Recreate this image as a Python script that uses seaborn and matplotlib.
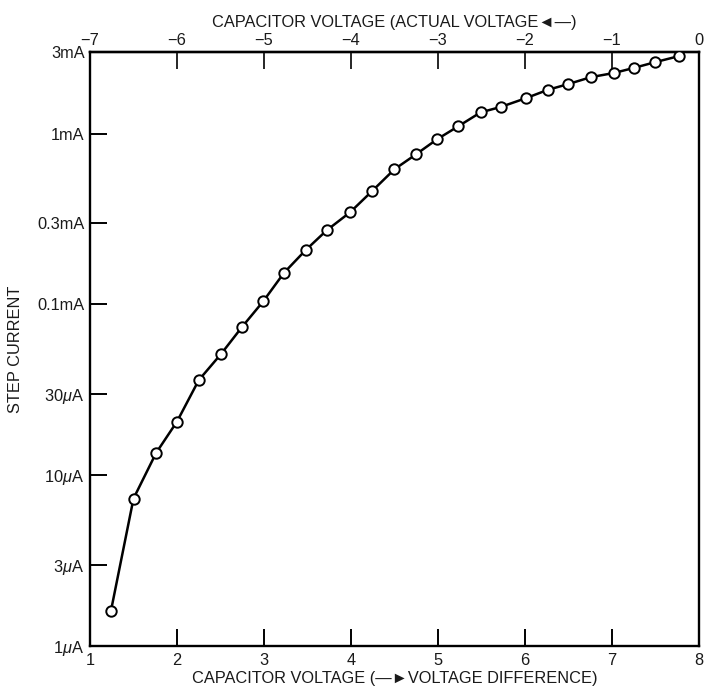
import matplotlib
matplotlib.use("Agg")
import matplotlib.pyplot as plt
import seaborn as sns
import pandas as pd
import numpy as np
from matplotlib.ticker import FixedLocator, NullLocator

# ---- data ----
voltage_difference = [1.24, 1.50, 1.76, 2.00, 2.25, 2.51, 2.75, 2.99, 3.23, 3.48,
                      3.72, 3.99, 4.24, 4.50, 4.75, 4.99, 5.23, 5.49, 5.72, 6.01,
                      6.26, 6.50, 6.76, 7.02, 7.25, 7.50, 7.77]
step_current = [1.60e-6, 7.3e-6, 1.35e-5, 2.06e-5, 3.60e-5, 5.15e-5, 7.4e-5, 1.04e-4,
                1.53e-4, 2.08e-4, 2.71e-4, 3.46e-4, 4.59e-4, 6.18e-4, 7.57e-4, 9.26e-4,
                1.10e-3, 1.33e-3, 1.43e-3, 1.61e-3, 1.80e-3, 1.95e-3, 2.14e-3, 2.26e-3,
                2.42e-3, 2.62e-3, 2.84e-3]

y_ticks = [1e-6, 3e-6, 1e-5, 3e-5, 1e-4, 3e-4, 1e-3, 3e-3]
y_tick_labels = ["1$\\mu$A", "3$\\mu$A", "10$\\mu$A", "30$\\mu$A",
                 "0.1mA", "0.3mA", "1mA", "3mA"]
x_ticks = [1, 2, 3, 4, 5, 6, 7, 8]
x_tick_labels = ["1", "2", "3", "4", "5", "6", "7", "8"]
top_ticks = [-7, -6, -5, -4, -3, -2, -1, 0]
top_tick_labels = ["\u22127", "\u22126", "\u22125", "\u22124", "\u22123", "\u22122", "\u22121", "0"]

bottom_title = "CAPACITOR VOLTAGE (\u2014\u25baVOLTAGE DIFFERENCE)"
top_title = "CAPACITOR VOLTAGE (ACTUAL VOLTAGE\u25c4\u2014)"
y_title = "STEP CURRENT"

df = pd.DataFrame({"v": voltage_difference, "i": step_current})

sns.set_style("ticks")
plt.rcParams["font.family"] = ["Liberation Sans", "DejaVu Sans"]
plt.rcParams["mathtext.fontset"] = "custom"
plt.rcParams["mathtext.rm"] = "Liberation Sans"
plt.rcParams["mathtext.it"] = "Liberation Sans:italic"

FS = 11.8
TXT = "#1a1a1a"

fig = plt.figure(figsize=(7.06, 6.91), dpi=100)
ax = fig.add_axes([0.1275, 0.0651, 0.8625, 0.8596])

sns.lineplot(data=df, x="v", y="i", ax=ax, color="black", linewidth=1.8,
             marker="o", markersize=7.5, markerfacecolor="white",
             markeredgecolor="black", markeredgewidth=1.4, zorder=3)

ax.set_yscale("log")
ax.set_xlim(1, 8)
ax.set_ylim(1e-6, 3e-3)

ax.yaxis.set_major_locator(FixedLocator(y_ticks))
ax.yaxis.set_minor_locator(NullLocator())
ax.set_yticklabels(y_tick_labels)
ax.set_xticks(x_ticks)
ax.set_xticklabels(x_tick_labels)

ax.tick_params(axis="both", direction="in", length=12, width=1.4, color="black",
               labelsize=FS, labelcolor=TXT)
ax.tick_params(axis="y", pad=4)
ax.tick_params(axis="x", pad=5)
for s in ax.spines.values():
    s.set_visible(True)
    s.set_linewidth(1.7)
    s.set_color("black")

sec = ax.secondary_xaxis("top", functions=(lambda x: x - 8, lambda x: x + 8))
sec.set_xticks(top_ticks)
sec.set_xticklabels(top_tick_labels)
sec.tick_params(axis="x", direction="in", length=12, width=1.4, labelsize=FS,
                labelcolor=TXT, pad=3)
sec.spines["top"].set_linewidth(1.7)
sec.set_xlabel(top_title, fontsize=FS, color=TXT, labelpad=4)

ax.set_xlabel(bottom_title, fontsize=FS, color=TXT, labelpad=2)
ax.set_ylabel(y_title, fontsize=FS, color=TXT, labelpad=10)
ax.grid(False)

fig.savefig("out.png", dpi=100, facecolor="white")
